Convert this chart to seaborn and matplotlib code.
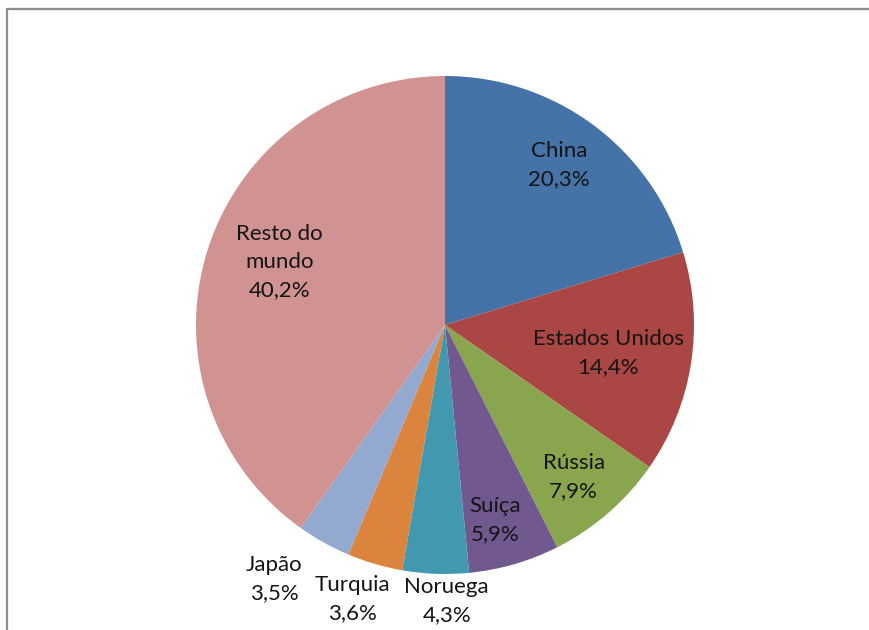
import numpy as np
import pandas as pd
import seaborn as sns
import matplotlib
matplotlib.use("Agg")
import matplotlib.pyplot as plt
from matplotlib.lines import Line2D

# ---- data ----
countries = ["China", "Estados Unidos", "Rússia", "Suíça", "Noruega",
             "Turquia", "Japão", "Resto do mundo"]
shares = [20.3, 14.4, 7.9, 5.9, 4.3, 3.6, 3.5, 40.2]
label_texts = ["China", "Estados Unidos", "Rússia", "Suíça", "Noruega",
               "Turquia", "Japão", "Resto do\nmundo"]

# ---- style ----
colors = ["#4572A7", "#AA4643", "#89A54E", "#71588F", "#4198AF",
          "#DB843D", "#93A9CF", "#D19392"]
label_radius = [0.79, 0.665, 0.80, 0.81, 1.11, 1.16, 1.23, 0.71]
label_angle_shift = [1.0, -1.0, -0.8, -1.7, 2.5, -2.3, -4.8, -3.0]

sns.set_theme(style="white")
plt.rcParams["font.family"] = ["Lato", "DejaVu Sans"]

df = pd.DataFrame({"country": countries, "share": shares})

fig = plt.figure(figsize=(8.7, 6.3), dpi=100)
W, H = 870, 630
cx, cy, R = 445, 325, 249
ax = fig.add_axes([(cx - R) / W, (H - cy - R) / H, 2 * R / W, 2 * R / H])

wedges, _ = ax.pie(df["share"], colors=colors, startangle=90,
                   counterclock=False, radius=1.0,
                   wedgeprops=dict(linewidth=0))
ax.set_xlim(-1, 1)
ax.set_ylim(-1, 1)
ax.set_aspect("equal")
ax.axis("off")

for w, txt, val, r, da in zip(wedges, label_texts, df["share"],
                              label_radius, label_angle_shift):
    ang = np.deg2rad((w.theta1 + w.theta2) / 2 + da)
    x, y = r * np.cos(ang), r * np.sin(ang)
    s = f"{txt}\n{val:.1f}%".replace(".", ",")
    ax.text(x, y, s, ha="center", va="center", fontsize=16,
            color="#141414", linespacing=1.5, clip_on=False)

# outer frame: only top and left edges visible (rest is cut off)
fx, fy = 7 / W, 1 - 8.5 / H
fig.lines.append(Line2D([fx, 1.0], [fy, fy], transform=fig.transFigure,
                        color="#8c8c8c", linewidth=1.6))
fig.lines.append(Line2D([fx, fx], [0.0, fy], transform=fig.transFigure,
                        color="#8c8c8c", linewidth=1.6))

fig.savefig("out.png", dpi=100, facecolor="white")
